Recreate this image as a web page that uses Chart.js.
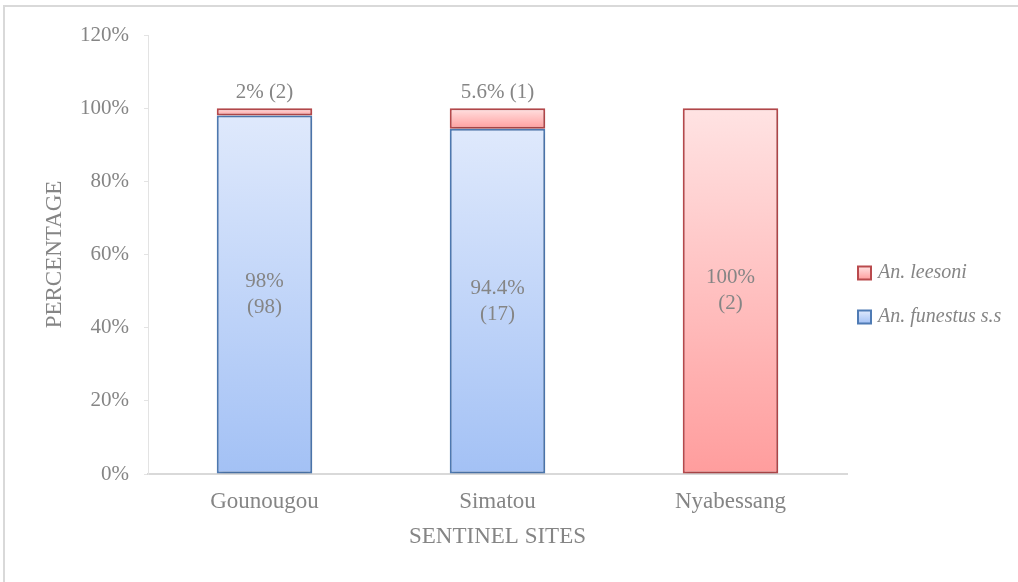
<!DOCTYPE html>
<html>
<head>
<meta charset="utf-8">
<script src="https://cdn.jsdelivr.net/npm/chart.js@4.4.1/dist/chart.umd.min.js"></script>
<style>
    html, body { margin: 0; padding: 0; background: #fff; }
    body { width: 1018px; height: 582px; overflow: hidden; position: relative; }
    .frame {
        position: absolute; left: 3px; top: 5px; width: 1015px; height: 577px;
        border-left: 2px solid #d9d9d9; border-top: 2px solid #d9d9d9;
    }
    .chart-box { position: absolute; left: 0; top: 0; width: 1013px; height: 575px; }
</style>
</head>
<body>
<div class="frame">
    <div class="chart-box"><canvas id="speciesChart"></canvas></div>
</div>
<script>
// --- chart data ---
const sites = ['Gounougou', 'Simatou', 'Nyabessang'];
const funestusPct = [98, 94.4, 0];
const funestusCount = [98, 17, 0];
const leesoniPct = [2, 5.6, 100];
const leesoniCount = [2, 1, 2];
const yTicks = [0, 20, 40, 60, 80, 100, 120];

const FONT = "'Liberation Serif', 'Times New Roman', serif";
const TEXT_GREY = '#858585';

const blueFill = ['#dfe9fc', '#a3c1f5'];
const redFill = ['#ffe3e3', '#ff9d9d'];

// gradient across each stacked segment, light on top
function segmentGradient(ctx, colors) {
    const chart = ctx.chart;
    if (!chart.chartArea || !chart.scales.y) return colors[1];
    const y = chart.scales.y;
    const i = ctx.dataIndex;
    let lo = 0, hi = 0;
    if (ctx.datasetIndex === 0) {
        hi = funestusPct[i];
    } else {
        lo = funestusPct[i];
        hi = funestusPct[i] + leesoniPct[i];
    }
    const top = y.getPixelForValue(hi);
    const bottom = y.getPixelForValue(lo);
    if (bottom - top < 1) return colors[1];
    const g = chart.ctx.createLinearGradient(0, top, 0, bottom);
    g.addColorStop(0, colors[0]);
    g.addColorStop(1, colors[1]);
    return g;
}

// soft shadow behind the bars, like the office chart
const barShadow = {
    id: 'barShadow',
    beforeDatasetsDraw(chart) {
        const ctx = chart.ctx;
        ctx.save();
        ctx.shadowColor = 'rgba(0, 0, 0, 0.18)';
        ctx.shadowBlur = 5;
        ctx.shadowOffsetX = 1;
        ctx.shadowOffsetY = 1;
    },
    afterDatasetsDraw(chart) {
        chart.ctx.restore();
    }
};

// value labels: inside for big segments, above the bar for small ones
const barLabels = {
    id: 'barLabels',
    afterDatasetsDraw(chart) {
        const ctx = chart.ctx;
        ctx.save();
        ctx.fillStyle = TEXT_GREY;
        ctx.font = '21px ' + FONT;
        ctx.textAlign = 'center';
        ctx.textBaseline = 'middle';
        const counts = [funestusCount, leesoniCount];
        const pcts = [funestusPct, leesoniPct];
        chart.data.datasets.forEach((ds, di) => {
            const meta = chart.getDatasetMeta(di);
            meta.data.forEach((bar, i) => {
                const v = pcts[di][i];
                if (!v) return;
                const txt = v + '%';
                const cnt = '(' + counts[di][i] + ')';
                if (v < 10) {
                    ctx.fillText(txt + ' ' + cnt, bar.x, bar.y - 16);
                } else {
                    const mid = (bar.y + bar.base) / 2;
                    ctx.fillText(txt, bar.x, mid - 13);
                    ctx.fillText(cnt, bar.x, mid + 13);
                }
            });
        });
        ctx.restore();
    }
};

// legend on the right, leesoni first
const sideLegend = {
    id: 'sideLegend',
    afterDraw(chart) {
        const ctx = chart.ctx;
        const items = [
            { text: 'An. leesoni', fill: redFill, stroke: '#b94a4d', y: 266 },
            { text: 'An. funestus s.s', fill: blueFill, stroke: '#4f7bb4', y: 310 }
        ];
        ctx.save();
        items.forEach(it => {
            const bx = 853, size = 13;
            const g = ctx.createLinearGradient(0, it.y - size / 2, 0, it.y + size / 2);
            g.addColorStop(0, it.fill[0]);
            g.addColorStop(1, it.fill[1]);
            ctx.fillStyle = g;
            ctx.fillRect(bx, it.y - size / 2, size, size);
            ctx.strokeStyle = it.stroke;
            ctx.lineWidth = 2;
            ctx.strokeRect(bx, it.y - size / 2, size, size);
            ctx.fillStyle = TEXT_GREY;
            ctx.font = 'italic 20px ' + FONT;
            ctx.textAlign = 'left';
            ctx.textBaseline = 'middle';
            ctx.fillText(it.text, bx + 20, it.y);
        });
        ctx.restore();
    }
};

const ctx = document.getElementById('speciesChart').getContext('2d');
new Chart(ctx, {
    type: 'bar',
    data: {
        labels: sites,
        datasets: [
            {
                label: 'An. funestus s.s',
                data: funestusPct,
                backgroundColor: c => segmentGradient(c, blueFill),
                borderColor: '#4f7bb4',
                borderWidth: 2,
                borderSkipped: false,
                categoryPercentage: 1,
                barPercentage: 0.41
            },
            {
                label: 'An. leesoni',
                data: leesoniPct,
                backgroundColor: c => segmentGradient(c, redFill),
                borderColor: '#b94a4d',
                borderWidth: 2,
                borderSkipped: false,
                categoryPercentage: 1,
                barPercentage: 0.41
            }
        ]
    },
    options: {
        responsive: true,
        maintainAspectRatio: false,
        animation: false,
        layout: { padding: { top: 28, right: 171, left: 0, bottom: 0 } },
        plugins: {
            legend: { display: false },
            tooltip: { enabled: false }
        },
        scales: {
            x: {
                stacked: true,
                grid: { display: false, drawTicks: false },
                border: { color: '#d9d9d9', width: 2 },
                ticks: { color: TEXT_GREY, font: { family: FONT, size: 23 }, padding: 14 },
                title: {
                    display: true, text: 'SENTINEL SITES', color: TEXT_GREY,
                    font: { family: FONT, size: 23 }, padding: { top: 0, bottom: 31 }
                },
                afterFit: s => { s.height = 108; }
            },
            y: {
                stacked: true,
                min: 0,
                max: 120,
                afterBuildTicks: s => { s.ticks = yTicks.map(v => ({ value: v })); },
                grid: { drawOnChartArea: false, drawTicks: true, tickLength: 4, color: '#e3e3e3' },
                border: { color: '#e3e3e3', width: 1 },
                ticks: {
                    color: TEXT_GREY, font: { family: FONT, size: 21 }, padding: 15,
                    callback: v => v + '%'
                },
                title: {
                    display: true, text: 'PERCENTAGE', color: TEXT_GREY,
                    font: { family: FONT, size: 23 }, padding: { top: 36, bottom: 0 }
                },
                afterFit: s => { s.width = 143; }
            }
        }
    },
    plugins: [barShadow, barLabels, sideLegend]
});
</script>
</body>
</html>
